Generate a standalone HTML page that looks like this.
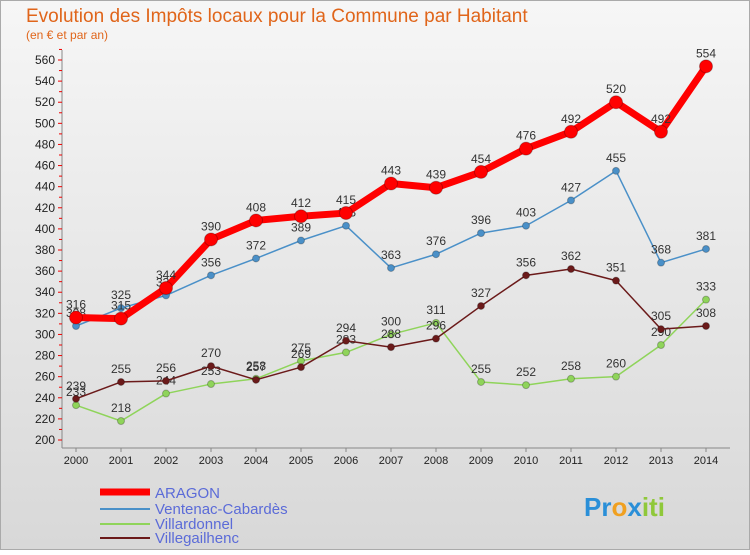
<!DOCTYPE html>
<html><head><meta charset="utf-8"><style>
body{margin:0;width:750px;height:550px;overflow:hidden;font-family:"Liberation Sans",sans-serif}
</style></head><body>
<svg width="750" height="550" xmlns="http://www.w3.org/2000/svg">
<defs><linearGradient id="bg" x1="0" y1="0" x2="0" y2="1"><stop offset="0" stop-color="#f6f6f6"/><stop offset="1" stop-color="#d8d8d8"/></linearGradient></defs>
<rect x="0.5" y="0.5" width="749" height="549" fill="url(#bg)" stroke="#aaa"/>
<text x="26" y="22" font-size="19" fill="#e0651a">Evolution des Impôts locaux pour la Commune par Habitant</text>
<text x="26" y="39" font-size="12" fill="#e0651a">(en € et par an)</text>
<g id="axes"></g><g id="series"></g>
<g>
<line x1="100" y1="492" x2="150" y2="492" stroke="#f00" stroke-width="7"/>
<text x="155" y="498" font-size="15" fill="#5b6bd8">ARAGON</text>
<line x1="100" y1="509" x2="150" y2="509" stroke="#4a90c8" stroke-width="2"/>
<text x="155" y="514" font-size="15" fill="#5b6bd8">Ventenac-Cabardès</text>
<line x1="100" y1="524" x2="150" y2="524" stroke="#8fd45a" stroke-width="2"/>
<text x="155" y="529" font-size="15" fill="#5b6bd8">Villardonnel</text>
<line x1="100" y1="538" x2="150" y2="538" stroke="#6b1a1a" stroke-width="2"/>
<text x="155" y="543" font-size="15" fill="#5b6bd8">Villegailhenc</text>
</g>
<text x="584" y="516" font-size="26" font-weight="bold"><tspan fill="#2a8fd8">Pr</tspan><tspan fill="#f0a020">o</tspan><tspan fill="#2a8fd8">x</tspan><tspan fill="#8fc83a">iti</tspan></text>
</svg>
<script>
const years=[2000,2001,2002,2003,2004,2005,2006,2007,2008,2009,2010,2011,2012,2013,2014];
const yTicks=[200,220,240,260,280,300,320,340,360,380,400,420,440,460,480,500,520,540,560];
const aragon=[316,315,344,390,408,412,415,443,439,454,476,492,520,492,554];
const ventenac=[308,325,337,356,372,389,403,363,376,396,403,427,455,368,381];
const villardonnel=[233,218,244,253,258,275,283,300,311,255,252,258,260,290,333];
const villegailhenc=[239,255,256,270,257,269,294,288,296,327,356,362,351,305,308];
const NS="http://www.w3.org/2000/svg";
const X=i=>76+i*45, Y=v=>440-(v-200)*380/360;
function mk(t,a,p){const e=document.createElementNS(NS,t);for(const k in a)e.setAttribute(k,a[k]);p.appendChild(e);return e;}
const ax=document.getElementById('axes');
const yl=mk('line',{x1:62,y1:50,x2:62,y2:448,stroke:'#888'},ax);


const xl=mk('line',{x1:62,y1:448,x2:730,y2:448,stroke:'#888'},ax);


yTicks.forEach(v=>{
 mk('line',{x1:58,y1:Y(v),x2:62,y2:Y(v),stroke:'#e00'},ax);
 mk('line',{x1:59,y1:Y(v+10),x2:62,y2:Y(v+10),stroke:'#e00'},ax);
 const t=mk('text',{x:55,y:Y(v)+4,'font-size':12,'text-anchor':'end',fill:'#222'},ax);t.textContent=v;
 
 
});
years.forEach((y,i)=>{
 mk('line',{x1:X(i),y1:448,x2:X(i),y2:452,stroke:'#888'},ax);
 const t=mk('text',{x:X(i),y:464,'font-size':11,'text-anchor':'middle',fill:'#222'},ax);t.textContent=y;
 
 
});
const sg=document.getElementById('series');
function series(data,col,w,r,name){
 const g=mk('g',{},sg);
 
 
 const pl=mk('polyline',{points:data.map((v,i)=>X(i)+','+Y(v)).join(' '),fill:'none',stroke:col,'stroke-width':w,'stroke-linejoin':'round'},g);
 
 
 data.forEach((v,i)=>{
  const c=mk('circle',{cx:X(i),cy:Y(v),r:r,fill:col,stroke:'rgba(0,0,0,0.25)'},g);
  
  
  const t=mk('text',{x:X(i),y:Y(v)-9,'font-size':12,'text-anchor':'middle',fill:'#333'},g);t.textContent=v;
  
  
 });
}
series(villardonnel,'#8fd45a',1.5,3.5,'villardonnel');
series(villegailhenc,'#6b1a1a',1.5,3.5,'villegailhenc');
series(ventenac,'#4a90c8',1.5,3.5,'ventenac');
series(aragon,'#f00',7,6.5,'aragon');
</script>
</body></html>
